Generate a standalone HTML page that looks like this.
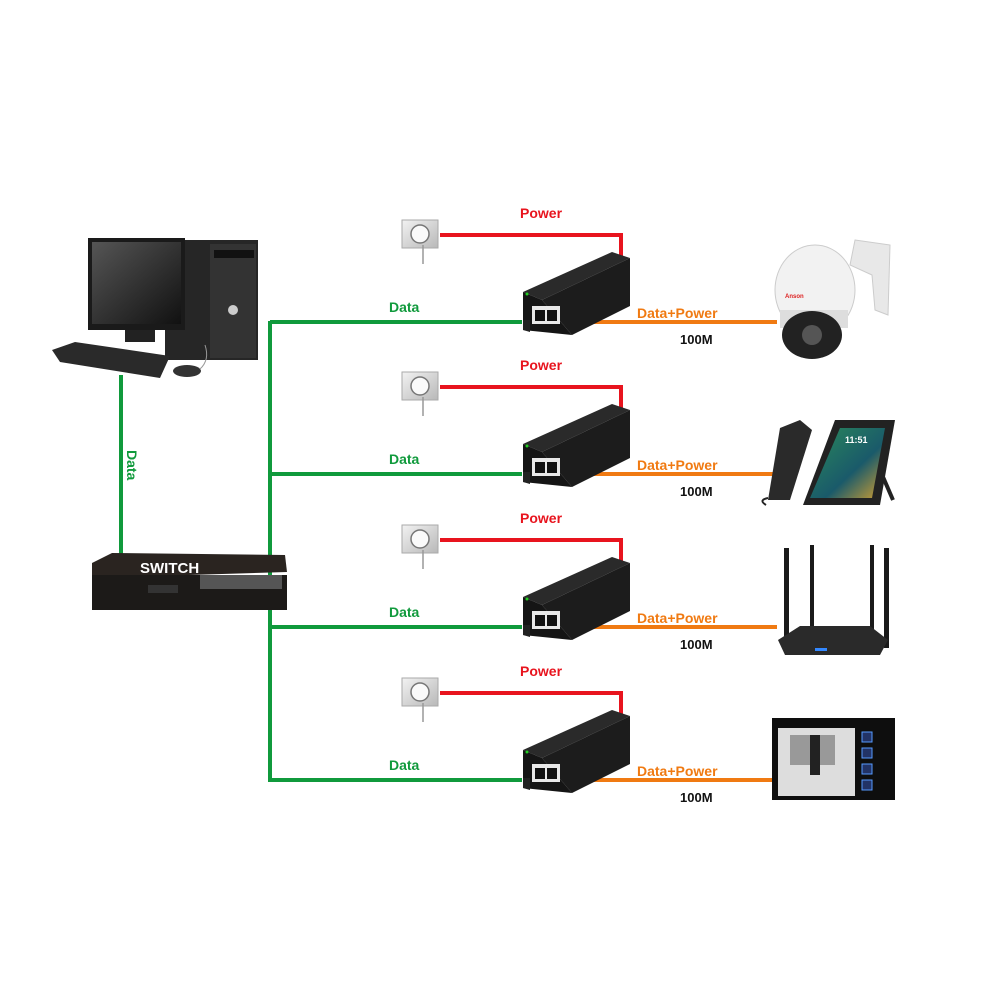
<!DOCTYPE html>
<html><head><meta charset="utf-8"><style>
html,body{margin:0;padding:0;background:#fff;}
svg{display:block;}
text{font-family:"Liberation Sans",sans-serif;font-weight:bold;}
</style></head><body>
<svg width="1000" height="1000" viewBox="0 0 1000 1000" xmlns="http://www.w3.org/2000/svg">
<defs>
<linearGradient id="og" x1="0" y1="0" x2="1" y2="1"><stop offset="0" stop-color="#f2f2f2"/><stop offset="1" stop-color="#b8b8b8"/></linearGradient>
<linearGradient id="scr" x1="0" y1="0" x2="1" y2="1"><stop offset="0" stop-color="#555"/><stop offset="1" stop-color="#111"/></linearGradient>
<linearGradient id="tab" x1="0" y1="0" x2="1" y2="1"><stop offset="0" stop-color="#2a8a5a"/><stop offset="0.6" stop-color="#1a5a6a"/><stop offset="1" stop-color="#d4a030"/></linearGradient>
<g id="row">
  <rect x="402" y="220" width="36" height="28" fill="url(#og)" stroke="#aaa"/>
  <circle cx="420" cy="234" r="9" fill="#fafafa" stroke="#777" stroke-width="1.5"/>
  <line x1="423" y1="245" x2="423" y2="264" stroke="#999" stroke-width="1.5"/>
  <polyline points="440,235 621,235 621,258" fill="none" stroke="#e8141e" stroke-width="4"/>
  <line x1="270" y1="322" x2="522" y2="322" stroke="#109a3c" stroke-width="4"/>
  <line x1="590" y1="322" x2="777" y2="322" stroke="#f07a12" stroke-width="4"/>
  <polygon points="523,292 612,252 630,258 542,300" fill="#2a2a2a"/>
  <polygon points="542,300 630,258 630,306 572,335" fill="#1c1c1c"/>
  <polygon points="523,292 542,300 572,335 523,330" fill="#151515"/>
  <polygon points="523,320 530,320 530,332 523,330" fill="#222"/>
  <rect x="532" y="306" width="28" height="18" fill="#e8e8e8"/>
  <rect x="535" y="310" width="10" height="11" fill="#111"/>
  <rect x="547" y="310" width="10" height="11" fill="#111"/>
  <circle cx="527" cy="294" r="1.5" fill="#2c2"/>
  <text x="520" y="218" font-size="14" fill="#e8141e">Power</text>
  <text x="389" y="312" font-size="14" fill="#109a3c">Data</text>
  <text x="637" y="318" font-size="14" fill="#f07a12">Data+Power</text>
  <text x="680" y="344" font-size="13" fill="#111">100M</text>
</g>
</defs>
<line x1="270" y1="321" x2="270" y2="782" stroke="#109a3c" stroke-width="4"/>
<use href="#row"/>
<use href="#row" transform="translate(0,152)"/>
<use href="#row" transform="translate(0,305)"/>
<use href="#row" transform="translate(0,458)"/>

<!-- PC -->
<line x1="121" y1="375" x2="121" y2="560" stroke="#109a3c" stroke-width="4"/>
<text transform="translate(127,450) rotate(90)" font-size="14" fill="#109a3c">Data</text>
<rect x="165" y="240" width="93" height="120" fill="#262626"/>
<rect x="210" y="244" width="46" height="114" fill="#333"/>
<rect x="214" y="250" width="40" height="8" fill="#111"/>
<ellipse cx="233" cy="310" rx="5" ry="5" fill="#ccc"/>
<rect x="88" y="238" width="97" height="92" fill="#1a1a1a"/>
<rect x="92" y="242" width="89" height="82" fill="url(#scr)"/>
<rect x="125" y="330" width="30" height="12" fill="#222"/>
<polygon points="52,350 75,342 170,356 160,378 60,362" fill="#2a2a2a"/>
<ellipse cx="187" cy="371" rx="14" ry="6" fill="#333"/>
<path d="M200,369 Q210,360 205,345" stroke="#999" fill="none"/>

<!-- switch -->
<polygon points="92,563 112,553 285,555 287,572 92,578" fill="#2a2420"/>
<rect x="92" y="575" width="195" height="35" fill="#1c1a18"/>
<rect x="200" y="575" width="82" height="14" fill="#555"/>
<rect x="148" y="585" width="30" height="8" fill="#333"/>
<text x="140" y="573" font-size="15" fill="#fff">SWITCH</text>

<!-- camera -->
<path d="M855,240 L890,245 L888,315 L875,310 L872,275 L850,265 Z" fill="#e8e8e8" stroke="#ccc"/>
<ellipse cx="815" cy="290" rx="40" ry="45" fill="#f2f2f2" stroke="#ccc"/>
<rect x="780" y="310" width="68" height="18" fill="#ddd"/>
<ellipse cx="812" cy="335" rx="30" ry="24" fill="#222"/>
<circle cx="812" cy="335" r="10" fill="#555"/>
<text x="785" y="298" font-size="6" fill="#d22">Anson</text>

<!-- phone -->
<polygon points="803,505 835,420 895,420 880,505" fill="#222"/>
<polygon points="810,498 840,428 885,428 872,498" fill="url(#tab)"/>
<text x="845" y="443" font-size="9" fill="#fff" font-weight="normal">11:51</text>
<polygon points="780,428 800,420 812,430 790,500 768,500" fill="#2a2a2a"/>
<line x1="880" y1="470" x2="893" y2="500" stroke="#222" stroke-width="4"/>
<path d="M768,498 Q758,500 766,505" stroke="#222" fill="none" stroke-width="2"/>

<!-- router -->
<rect x="784" y="548" width="5" height="90" fill="#1a1a1a"/>
<rect x="810" y="545" width="4" height="85" fill="#1a1a1a"/>
<rect x="870" y="545" width="4" height="85" fill="#1a1a1a"/>
<rect x="884" y="548" width="5" height="100" fill="#1a1a1a"/>
<polygon points="778,640 800,626 870,626 888,640 880,655 785,655" fill="#2a2a2a"/>
<rect x="815" y="648" width="12" height="3" fill="#38f"/>

<!-- video monitor -->
<rect x="772" y="718" width="123" height="82" fill="#0e0e0e"/>
<rect x="778" y="728" width="77" height="68" fill="#ddd"/>
<rect x="790" y="735" width="45" height="30" fill="#999"/>
<rect x="810" y="735" width="10" height="40" fill="#222"/>
<rect x="862" y="732" width="10" height="10" fill="#236" stroke="#59f"/>
<rect x="862" y="748" width="10" height="10" fill="#236" stroke="#59f"/>
<rect x="862" y="764" width="10" height="10" fill="#236" stroke="#59f"/>
<rect x="862" y="780" width="10" height="10" fill="#236" stroke="#59f"/>
</svg>
</body></html>
